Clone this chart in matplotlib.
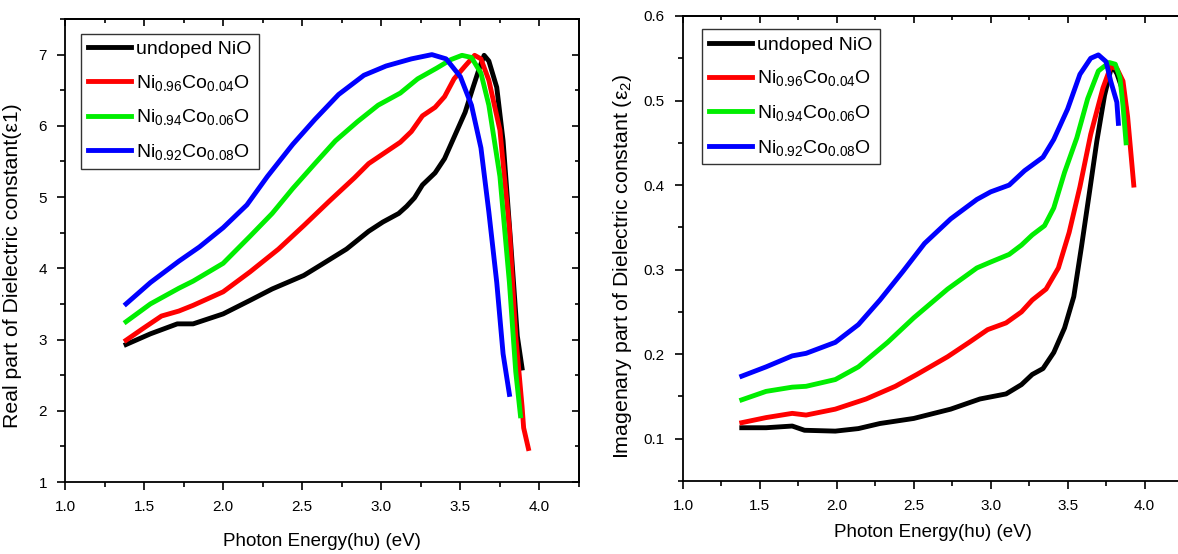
import matplotlib
matplotlib.use("Agg")
import matplotlib.pyplot as plt
from matplotlib.ticker import MultipleLocator

plt.rcParams["font.family"] = ["Liberation Sans", "DejaVu Sans"]
plt.rcParams["mathtext.fontset"] = "custom"
plt.rcParams["mathtext.rm"] = "Liberation Sans"

LABELS = [
    "undoped NiO",
    r"$\mathregular{Ni_{0.96}Co_{0.04}O}$",
    r"$\mathregular{Ni_{0.94}Co_{0.06}O}$",
    r"$\mathregular{Ni_{0.92}Co_{0.08}O}$",
]
COLORS = ["black", "#ff0000", "#00ee00", "#0000ff"]

# real part (eps1)
e1_undoped_x = [1.386, 1.54, 1.71, 1.81, 2.0, 2.17, 2.31, 2.51, 2.62, 2.78, 2.92, 3.01, 3.11, 3.16,
                3.21, 3.26, 3.34, 3.40, 3.46, 3.53, 3.58, 3.62, 3.65, 3.68, 3.73, 3.77, 3.82, 3.86, 3.89]
e1_undoped_y = [2.93, 3.08, 3.22, 3.22, 3.36, 3.55, 3.71, 3.90, 4.05, 4.27, 4.52, 4.65, 4.77, 4.87,
                4.99, 5.17, 5.34, 5.54, 5.84, 6.19, 6.54, 6.81, 6.99, 6.91, 6.54, 5.79, 4.30, 3.05, 2.60]
e1_co04_x = [1.386, 1.49, 1.61, 1.72, 1.81, 2.0, 2.17, 2.35, 2.51, 2.67, 2.83, 2.92, 3.02, 3.12,
             3.19, 3.26, 3.34, 3.40, 3.46, 3.53, 3.59, 3.63, 3.68, 3.75, 3.81, 3.85, 3.89, 3.90, 3.93]
e1_co04_y = [2.99, 3.15, 3.33, 3.40, 3.48, 3.67, 3.95, 4.27, 4.60, 4.94, 5.27, 5.47, 5.62, 5.77,
             5.92, 6.14, 6.26, 6.41, 6.66, 6.84, 6.99, 6.94, 6.64, 5.94, 4.55, 3.05, 2.06, 1.76, 1.47]
e1_co06_x = [1.386, 1.54, 1.72, 1.81, 2.0, 2.17, 2.31, 2.44, 2.58, 2.71, 2.85, 2.98, 3.12, 3.23,
             3.35, 3.44, 3.51, 3.57, 3.63, 3.68, 3.75, 3.81, 3.85, 3.88]
e1_co06_y = [3.25, 3.50, 3.72, 3.82, 4.07, 4.45, 4.77, 5.12, 5.47, 5.79, 6.06, 6.29, 6.46, 6.66,
             6.81, 6.93, 6.99, 6.96, 6.74, 6.29, 5.29, 3.80, 2.55, 1.93]
e1_co08_x = [1.386, 1.54, 1.72, 1.85, 2.0, 2.15, 2.28, 2.44, 2.58, 2.73, 2.89, 3.03, 3.19, 3.32,
             3.41, 3.50, 3.57, 3.63, 3.68, 3.73, 3.77, 3.81]
e1_co08_y = [3.50, 3.80, 4.10, 4.30, 4.57, 4.89, 5.29, 5.74, 6.09, 6.44, 6.71, 6.84, 6.94, 7.00,
             6.94, 6.69, 6.29, 5.69, 4.79, 3.80, 2.80, 2.23]

# imaginary part (eps2)
e2_undoped_x = [1.382, 1.54, 1.71, 1.79, 1.99, 2.14, 2.28, 2.50, 2.74, 2.93, 3.10, 3.20, 3.27, 3.34,
                3.41, 3.48, 3.54, 3.59, 3.64, 3.69, 3.74, 3.78, 3.80, 3.82, 3.86, 3.88]
e2_undoped_y = [0.113, 0.113, 0.115, 0.110, 0.109, 0.112, 0.118, 0.124, 0.135, 0.147, 0.153, 0.164,
                0.176, 0.183, 0.202, 0.231, 0.268, 0.327, 0.389, 0.452, 0.506, 0.536, 0.538, 0.532,
                0.511, 0.490]
e2_co04_x = [1.382, 1.54, 1.71, 1.80, 1.99, 2.19, 2.38, 2.52, 2.72, 2.86, 2.98, 3.10, 3.20, 3.27,
             3.36, 3.44, 3.51, 3.58, 3.65, 3.73, 3.78, 3.82, 3.86, 3.89, 3.93]
e2_co04_y = [0.119, 0.125, 0.130, 0.128, 0.135, 0.147, 0.162, 0.176, 0.197, 0.214, 0.229, 0.237,
             0.250, 0.264, 0.277, 0.302, 0.344, 0.398, 0.460, 0.515, 0.540, 0.538, 0.523, 0.481,
             0.400]
e2_co06_x = [1.382, 1.54, 1.71, 1.80, 1.99, 2.14, 2.33, 2.50, 2.72, 2.91, 3.00, 3.12, 3.20, 3.27,
             3.35, 3.41, 3.48, 3.56, 3.63, 3.70, 3.77, 3.81, 3.84, 3.86, 3.88]
e2_co06_y = [0.146, 0.156, 0.161, 0.162, 0.170, 0.185, 0.214, 0.243, 0.277, 0.302, 0.309, 0.318,
             0.329, 0.341, 0.352, 0.373, 0.415, 0.456, 0.502, 0.535, 0.545, 0.543, 0.527, 0.494,
             0.450]
e2_co08_x = [1.382, 1.54, 1.71, 1.80, 1.99, 2.14, 2.28, 2.43, 2.57, 2.74, 2.91, 3.00, 3.12, 3.22,
             3.34, 3.41, 3.50, 3.58, 3.65, 3.70, 3.75, 3.78, 3.82, 3.83]
e2_co08_y = [0.174, 0.185, 0.198, 0.201, 0.214, 0.235, 0.264, 0.298, 0.331, 0.360, 0.383, 0.392,
             0.400, 0.417, 0.433, 0.454, 0.490, 0.531, 0.550, 0.554, 0.546, 0.523, 0.498, 0.473]

e1_series = [(e1_undoped_x, e1_undoped_y), (e1_co04_x, e1_co04_y),
             (e1_co06_x, e1_co06_y), (e1_co08_x, e1_co08_y)]
e2_series = [(e2_undoped_x, e2_undoped_y), (e2_co04_x, e2_co04_y),
             (e2_co06_x, e2_co06_y), (e2_co08_x, e2_co08_y)]

fig = plt.figure(figsize=(11.78, 5.54), dpi=100)
ax1 = fig.add_axes([65 / 1178, 72 / 554, 514 / 1178, 463 / 554])
ax2 = fig.add_axes([683 / 1178, 73 / 554, 500 / 1178, 465 / 554])


def style_axes(ax, ymin, ymax, ymaj, ymin_step, xlabelpad, mirror_right=True):
    ax.set_xlim(1.0, 4.25)
    ax.set_ylim(ymin, ymax)
    ax.xaxis.set_major_locator(MultipleLocator(0.5))
    ax.xaxis.set_minor_locator(MultipleLocator(0.25))
    ax.yaxis.set_major_locator(MultipleLocator(ymaj))
    ax.yaxis.set_minor_locator(MultipleLocator(ymin_step))
    ax.tick_params(which="both", direction="out", labelsize=11, width=1.2, pad=7)
    ax.tick_params(which="major", length=6)
    ax.tick_params(which="minor", length=3.5)
    for s in ax.spines.values():
        s.set_linewidth(1.3)
    # mirrored inward ticks on top / right, like Origin
    top = ax.secondary_xaxis("top")
    top.xaxis.set_major_locator(MultipleLocator(0.5))
    top.xaxis.set_minor_locator(MultipleLocator(0.25))
    top.tick_params(which="both", direction="in", labeltop=False, width=1.2)
    top.tick_params(which="major", length=5)
    top.tick_params(which="minor", length=3)
    top.spines["top"].set_linewidth(1.3)
    if mirror_right:
        right = ax.secondary_yaxis("right")
        right.yaxis.set_major_locator(MultipleLocator(ymaj))
        right.yaxis.set_minor_locator(MultipleLocator(ymin_step))
        right.tick_params(which="both", direction="in", labelright=False, width=1.2)
        right.tick_params(which="major", length=5)
        right.tick_params(which="minor", length=3)
        right.spines["right"].set_linewidth(1.3)
    ax.set_xlabel("Photon Energy(hυ) (eV)", fontsize=13.5, labelpad=xlabelpad)


for (x, y), c, lab in zip(e1_series, COLORS, LABELS):
    ax1.plot(x, y, color=c, lw=3.5, label=lab, solid_joinstyle="round")
for (x, y), c, lab in zip(e2_series, COLORS, LABELS):
    ax2.plot(x, y, color=c, lw=3.5, label=lab, solid_joinstyle="round")

style_axes(ax1, 1.0, 7.5, 1, 0.5, 14)
ax1.yaxis.set_major_formatter(plt.FuncFormatter(lambda v, p: f"{v:.0f}"))
ax1.set_ylabel("Real part of Dielectric constant(ε1)", fontsize=15.3)
ax1.yaxis.set_label_coords(-0.084, 0.467)

style_axes(ax2, 0.05, 0.6, 0.1, 0.05, 8, mirror_right=False)
ax2.spines["right"].set_visible(False)
ax2.set_ylabel(r"Imagenary part of Dielectric constant ($\mathregular{ε_2}$)", fontsize=15.3)
ax2.yaxis.set_label_coords(-0.098, 0.462)

for ax, loc in [(ax1, (0.031, 0.968)), (ax2, (0.038, 0.971))]:
    leg = ax.legend(loc="upper left", bbox_to_anchor=loc, borderaxespad=0, fontsize=14,
                    frameon=True, fancybox=False, handlelength=2.2, handletextpad=0.3,
                    borderpad=0.35, labelspacing=0.75)
    leg.get_frame().set_edgecolor("black")
    leg.get_frame().set_linewidth(1.0)

fig.savefig("out.png", dpi=100)
